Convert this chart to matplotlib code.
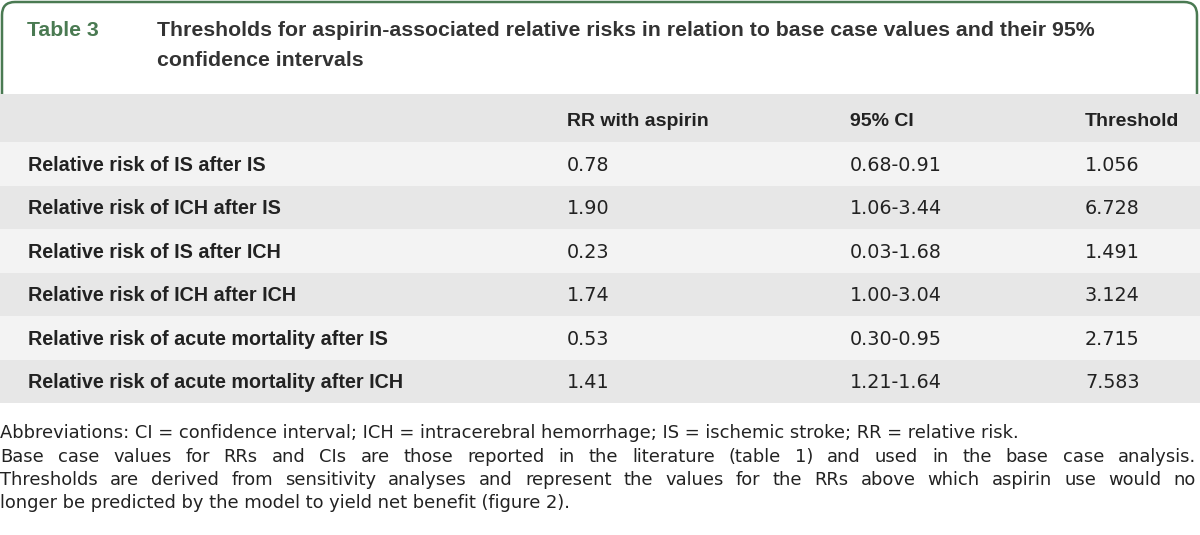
import matplotlib
matplotlib.use("Agg")
import matplotlib.pyplot as plt
from matplotlib.patches import FancyBboxPatch, Rectangle

# datos de la tabla
table_label = "Table 3"
title_lines = ["Thresholds for aspirin-associated relative risks in relation to base case values and their 95%",
               "confidence intervals"]
columns = ["", "RR with aspirin", "95% CI", "Threshold"]
rows = ["Relative risk of IS after IS",
        "Relative risk of ICH after IS",
        "Relative risk of IS after ICH",
        "Relative risk of ICH after ICH",
        "Relative risk of acute mortality after IS",
        "Relative risk of acute mortality after ICH"]
rr_aspirin = ["0.78", "1.90", "0.23", "1.74", "0.53", "1.41"]
ci_95 = ["0.68-0.91", "1.06-3.44", "0.03-1.68", "1.00-3.04", "0.30-0.95", "1.21-1.64"]
threshold = ["1.056", "6.728", "1.491", "3.124", "2.715", "7.583"]
footnotes = [
    ("Abbreviations: CI = confidence interval; ICH = intracerebral hemorrhage; IS = ischemic stroke; RR = relative risk.", False),
    ("Base case values for RRs and CIs are those reported in the literature (table 1) and used in the base case analysis.", True),
    ("Thresholds are derived from sensitivity analyses and represent the values for the RRs above which aspirin use would no", True),
    ("longer be predicted by the model to yield net benefit (figure 2).", False),
]

W, H = 1200, 535
green = "#4a7a52"
txt = "#222222"
bold_font = "Liberation Sans"
reg_font = "DejaVu Sans"

fig = plt.figure(figsize=(W / 100, H / 100), dpi=100)
ax = fig.add_axes([0, 0, 1, 1])
ax.set_xlim(0, W)
ax.set_ylim(H, 0)
ax.axis("off")

# caja del título con esquinas redondeadas
box = FancyBboxPatch((2, 2), W - 5, 110, boxstyle="round,pad=0,rounding_size=13",
                     fc="white", ec=green, lw=1.8, zorder=1)
ax.add_patch(box)
ax.text(27, 30, table_label, color=green, fontsize=15.3, fontweight="bold",
        family=bold_font, va="center", zorder=3)
for i, line in enumerate(title_lines):
    ax.text(157, 30 + 31 * i, line, color="#333333", fontsize=15.3, fontweight="bold",
            family=bold_font, va="center", zorder=3)

# encabezado
top = 94
head_h = 48
row_h = 43.5
col_x = [28, 567, 850, 1085]
ax.add_patch(Rectangle((0, top), W, head_h, fc="#e6e6e6", ec="none", zorder=2))
for x, c in zip(col_x, columns):
    ax.text(x, top + head_h / 2 + 4, c, color=txt, fontsize=14, fontweight="bold",
            family=bold_font, va="center", zorder=3)

# filas
y0 = top + head_h
for i, lab in enumerate(rows):
    y = y0 + i * row_h
    fc = "#f3f3f3" if i % 2 == 0 else "#e7e7e7"
    ax.add_patch(Rectangle((0, y), W, row_h, fc=fc, ec="none", zorder=2))
    yc = y + row_h / 2 + 1.5
    ax.text(col_x[0], yc, lab, color=txt, fontsize=14.2, fontweight="bold",
            family=bold_font, va="center", zorder=3)
    for x, v in zip(col_x[1:], [rr_aspirin[i], ci_95[i], threshold[i]]):
        ax.text(x, yc, v, color=txt, fontsize=13.8, family=reg_font, va="center", zorder=3)

# notas al pie (justificadas)
renderer = fig.canvas.get_renderer()
fy = 433
for line, justify in footnotes:
    if not justify:
        ax.text(0, fy, line, color=txt, fontsize=12.9, family=reg_font, va="center")
    else:
        words = line.split(" ")
        objs = [ax.text(0, fy, w, color=txt, fontsize=12.9, family=reg_font, va="center")
                for w in words]
        widths = [o.get_window_extent(renderer).width for o in objs]
        gap = (W - 4 - sum(widths)) / (len(words) - 1)
        x = 0
        for o, w in zip(objs, widths):
            o.set_x(x)
            x += w + gap
    fy += 23.5

fig.savefig("out.png", dpi=100)
